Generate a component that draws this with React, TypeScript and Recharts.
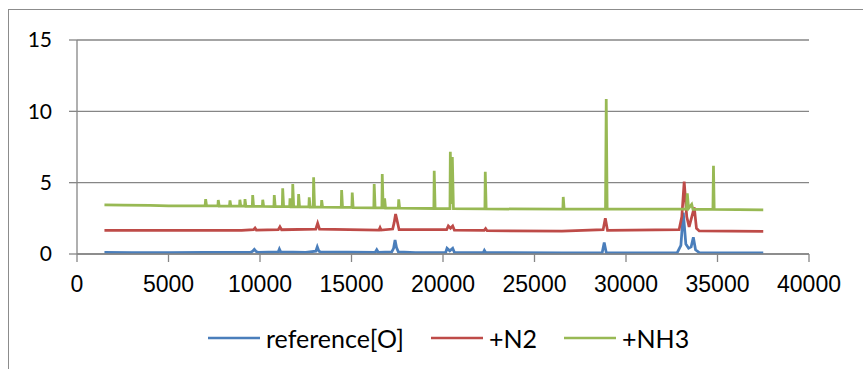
import { LineChart, Line, XAxis, YAxis, CartesianGrid, Legend } from 'recharts';

// peak positions: x = wavenumber-ish axis, y = intensity
const referenceO = [
  { x: 1500, y: 0.12 }, { x: 3000, y: 0.1 }, { x: 5000, y: 0.1 }, { x: 7000, y: 0.11 },
  { x: 8500, y: 0.12 }, { x: 9500, y: 0.12 }, { x: 9600, y: 0.2 }, { x: 9690, y: 0.33 },
  { x: 9780, y: 0.18 }, { x: 9900, y: 0.12 }, { x: 11000, y: 0.15 }, { x: 11060, y: 0.35 },
  { x: 11130, y: 0.15 }, { x: 12500, y: 0.12 }, { x: 13050, y: 0.2 }, { x: 13130, y: 0.5 },
  { x: 13220, y: 0.2 }, { x: 13300, y: 0.15 }, { x: 16300, y: 0.12 }, { x: 16380, y: 0.3 },
  { x: 16460, y: 0.12 }, { x: 17200, y: 0.15 }, { x: 17300, y: 0.4 }, { x: 17380, y: 0.98 },
  { x: 17460, y: 0.45 }, { x: 17560, y: 0.15 }, { x: 18500, y: 0.1 }, { x: 20150, y: 0.12 },
  { x: 20220, y: 0.4 }, { x: 20370, y: 0.22 }, { x: 20530, y: 0.4 }, { x: 20620, y: 0.12 },
  { x: 22200, y: 0.1 }, { x: 22260, y: 0.25 }, { x: 22330, y: 0.1 }, { x: 26500, y: 0.08 },
  { x: 28700, y: 0.1 }, { x: 28810, y: 0.8 }, { x: 28920, y: 0.1 }, { x: 29000, y: 0.08 },
  { x: 32800, y: 0.1 }, { x: 33000, y: 0.6 }, { x: 33130, y: 2.9 }, { x: 33270, y: 0.7 },
  { x: 33420, y: 0.4 }, { x: 33560, y: 0.5 }, { x: 33680, y: 1.17 }, { x: 33800, y: 0.3 },
  { x: 34000, y: 0.1 }, { x: 35000, y: 0.08 }, { x: 37500, y: 0.08 },
];

const plusN2 = [
  { x: 1500, y: 1.66 }, { x: 5000, y: 1.65 }, { x: 9000, y: 1.66 }, { x: 9650, y: 1.7 },
  { x: 9730, y: 1.82 }, { x: 9800, y: 1.68 }, { x: 11000, y: 1.7 }, { x: 11090, y: 1.91 },
  { x: 11180, y: 1.7 }, { x: 13050, y: 1.75 }, { x: 13150, y: 2.15 }, { x: 13250, y: 1.75 },
  { x: 16500, y: 1.68 }, { x: 16560, y: 1.85 }, { x: 16620, y: 1.68 }, { x: 17250, y: 1.75 },
  { x: 17330, y: 2.2 }, { x: 17410, y: 2.8 }, { x: 17500, y: 2.3 }, { x: 17600, y: 1.7 },
  { x: 20200, y: 1.7 }, { x: 20290, y: 1.96 }, { x: 20410, y: 1.8 }, { x: 20530, y: 1.96 },
  { x: 20620, y: 1.68 }, { x: 22250, y: 1.65 }, { x: 22330, y: 1.78 }, { x: 22410, y: 1.63 },
  { x: 26500, y: 1.6 }, { x: 28750, y: 1.7 }, { x: 28870, y: 2.5 }, { x: 28990, y: 1.65 },
  { x: 32900, y: 1.7 }, { x: 33050, y: 2.6 }, { x: 33180, y: 5.07 }, { x: 33320, y: 2.6 },
  { x: 33450, y: 1.9 }, { x: 33730, y: 3.27 }, { x: 33850, y: 1.8 }, { x: 34000, y: 1.62 },
  { x: 37500, y: 1.58 },
];

const plusNH3 = [
  { x: 1500, y: 3.45 }, { x: 2500, y: 3.42 }, { x: 4000, y: 3.4 }, { x: 5000, y: 3.38 },
  { x: 6000, y: 3.38 }, { x: 7000, y: 3.37 }, { x: 7030, y: 3.85 }, { x: 7080, y: 3.37 },
  { x: 7700, y: 3.37 }, { x: 7720, y: 3.78 }, { x: 7770, y: 3.36 }, { x: 8330, y: 3.36 },
  { x: 8360, y: 3.75 }, { x: 8410, y: 3.35 }, { x: 8880, y: 3.35 }, { x: 8900, y: 3.8 },
  { x: 8950, y: 3.35 }, { x: 9160, y: 3.35 }, { x: 9180, y: 3.85 }, { x: 9230, y: 3.34 },
  { x: 9580, y: 3.34 }, { x: 9600, y: 4.13 }, { x: 9650, y: 3.33 }, { x: 10130, y: 3.33 },
  { x: 10150, y: 3.8 }, { x: 10200, y: 3.33 }, { x: 10760, y: 3.32 }, { x: 10780, y: 4.13 },
  { x: 10830, y: 3.32 }, { x: 11220, y: 3.32 }, { x: 11240, y: 4.6 }, { x: 11290, y: 3.32 },
  { x: 11620, y: 3.32 }, { x: 11640, y: 3.9 }, { x: 11690, y: 3.31 }, { x: 11770, y: 3.31 },
  { x: 11790, y: 4.9 }, { x: 11840, y: 3.31 }, { x: 12090, y: 3.3 }, { x: 12110, y: 4.2 },
  { x: 12160, y: 3.3 }, { x: 12670, y: 3.3 }, { x: 12690, y: 3.97 }, { x: 12740, y: 3.29 },
  { x: 12910, y: 3.29 }, { x: 12930, y: 5.37 }, { x: 12980, y: 3.29 }, { x: 13350, y: 3.28 },
  { x: 13370, y: 3.78 }, { x: 13420, y: 3.28 }, { x: 14440, y: 3.27 }, { x: 14460, y: 4.48 },
  { x: 14510, y: 3.26 }, { x: 15020, y: 3.26 }, { x: 15040, y: 4.3 }, { x: 15090, y: 3.25 },
  { x: 16220, y: 3.24 }, { x: 16240, y: 4.9 }, { x: 16290, y: 3.24 }, { x: 16660, y: 3.23 },
  { x: 16680, y: 5.6 }, { x: 16730, y: 3.23 }, { x: 16790, y: 3.23 }, { x: 16810, y: 3.9 },
  { x: 16860, y: 3.22 }, { x: 17560, y: 3.22 }, { x: 17580, y: 3.83 }, { x: 17630, y: 3.21 },
  { x: 19500, y: 3.19 }, { x: 19520, y: 5.84 }, { x: 19570, y: 3.18 }, { x: 20380, y: 3.18 },
  { x: 20400, y: 7.17 }, { x: 20460, y: 3.5 }, { x: 20510, y: 6.8 }, { x: 20570, y: 3.18 },
  { x: 22290, y: 3.17 }, { x: 22310, y: 5.77 }, { x: 22360, y: 3.16 }, { x: 26550, y: 3.14 },
  { x: 26570, y: 4.0 }, { x: 26620, y: 3.14 }, { x: 28880, y: 3.14 }, { x: 28920, y: 10.86 },
  { x: 28970, y: 3.14 }, { x: 33300, y: 3.14 }, { x: 33350, y: 4.25 }, { x: 33420, y: 3.2 },
  { x: 33590, y: 3.48 }, { x: 33660, y: 3.13 }, { x: 34750, y: 3.12 }, { x: 34780, y: 6.19 },
  { x: 34820, y: 3.12 }, { x: 37500, y: 3.1 },
];

const xTicks = [0, 5000, 10000, 15000, 20000, 25000, 30000, 35000, 40000];
const yTicks = [0, 5, 10, 15];

const series = [
  { name: 'reference[O]', data: referenceO, color: '#4a7ebb' },
  { name: '+N2', data: plusN2, color: '#be4b48' },
  { name: '+NH3', data: plusNH3, color: '#98b954' },
];

const font = 'Lato, "Liberation Sans", sans-serif';
const axisGray = '#868686';

function LegendRow() {
  return (
    <div
      style={{
        display: 'flex',
        gap: 27,
        paddingLeft: 208,
        fontFamily: font,
        fontSize: 25,
        color: '#000',
      }}
    >
      {series.map((s) => (
        <div key={s.name} style={{ display: 'flex', alignItems: 'center' }}>
          <svg width={52} height={4} style={{ marginRight: 6 }}>
            <line x1={0} y1={2} x2={52} y2={2} stroke={s.color} strokeWidth={2.5} />
          </svg>
          <span>{s.name}</span>
        </div>
      ))}
    </div>
  );
}

export default function App() {
  return (
    <div style={{ position: 'absolute', left: 0, top: 0, width: 863, height: 369, background: '#fff', overflow: 'hidden' }}>
      <div
        style={{
          position: 'absolute',
          left: 8,
          top: 9,
          width: 900,
          height: 400,
          border: '1.5px solid #8c8c8c',
        }}
      />
      <LineChart
        width={863}
        height={369}
        margin={{ top: 40, right: 54, bottom: 75, left: 17 }}
        style={{ position: 'absolute', left: 0, top: 0 }}
      >
        <CartesianGrid vertical={false} stroke={axisGray} strokeWidth={1.3} />
        <XAxis
          dataKey="x"
          type="number"
          domain={[0, 40000]}
          ticks={xTicks}
          height={40}
          tickSize={8}
          tickMargin={14}
          stroke={axisGray}
          strokeWidth={1.3}
          tick={{ fontSize: 23, fill: '#000', fontFamily: '"Liberation Sans", Arial, sans-serif' }}
          allowDataOverflow
        />
        <YAxis
          type="number"
          domain={[0, 15]}
          ticks={yTicks}
          width={60}
          tickSize={8}
          tickMargin={17}
          stroke={axisGray}
          strokeWidth={1.3}
          tick={{ fontSize: 21, fill: '#000', fontFamily: font }}
        />
        <Legend verticalAlign="middle" layout="horizontal" wrapperStyle={{ top: 323, left: 0, width: 863 }} content={() => <LegendRow />} />
        {series.map((s) => (
          <Line
            key={s.name}
            data={s.data}
            dataKey="y"
            name={s.name}
            type="linear"
            stroke={s.color}
            strokeWidth={2.75}
            dot={false}
            isAnimationActive={false}
          />
        ))}
      </LineChart>
    </div>
  );
}
